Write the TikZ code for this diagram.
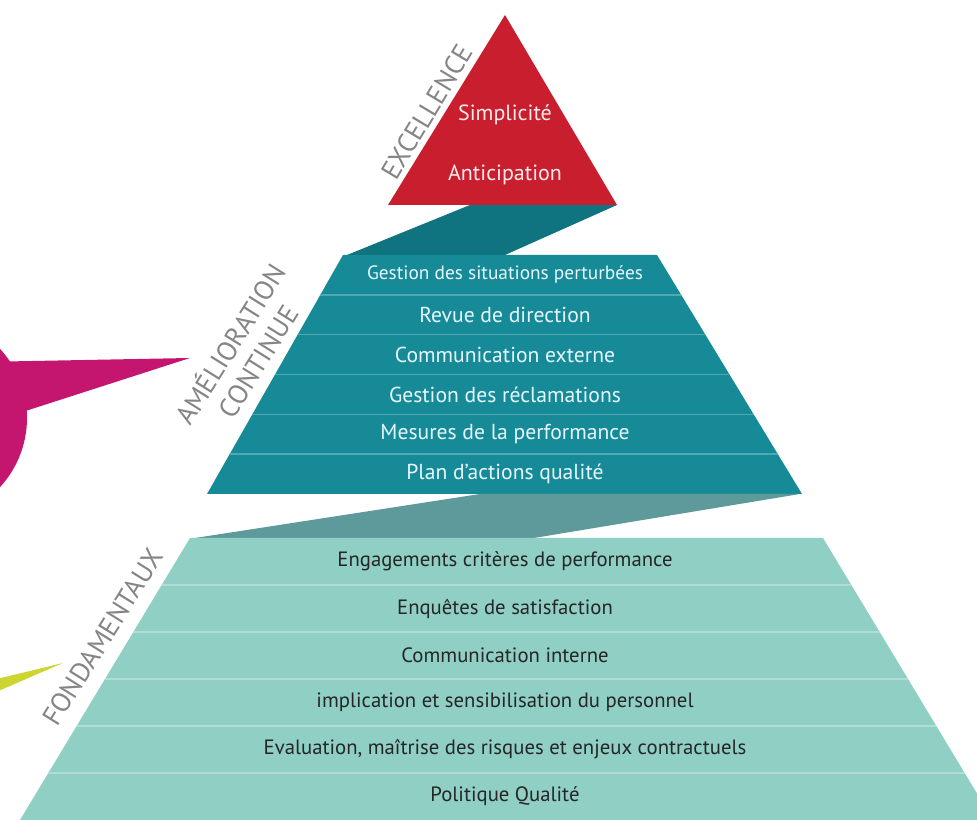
\documentclass[tikz,border=0pt]{standalone}
\usepackage{fontspec}
\setmainfont{PT Sans}
\usetikzlibrary{positioning}

\definecolor{excred}{HTML}{C81E2D}
\definecolor{midteal}{HTML}{178A98}
\definecolor{bandA}{HTML}{0F7380}
\definecolor{bandB}{HTML}{5E9A9C}
\definecolor{baseteal}{HTML}{8FCFC4}
\definecolor{bulle}{HTML}{C4166E}
\definecolor{lime}{HTML}{CDD630}
\definecolor{levelgray}{HTML}{858585}

\begin{document}
\begin{tikzpicture}[x=0.02cm,y=0.02cm]
  \tikzstyle{toptext}=[text=red!8,font=\fontsize{12.5}{14}\selectfont]
  \tikzstyle{midrow}=[text=cyan!10,font=\fontsize{12.3}{14}\selectfont]
  \tikzstyle{baserow}=[text=black!85,font=\fontsize{11.8}{13}\selectfont]
  \tikzstyle{level}=[text=levelgray,font=\fontsize{15.5}{18.5}\selectfont]
  \tikzstyle{sep}=[line width=0.8pt]

  \useasboundingbox (0,0) rectangle (977,820);
  \clip (0,0) rectangle (977,820);

  % bulles a gauche
  \fill[bulle] (-75,402) circle (102);
  \fill[bulle] (-20,458) -- (190,462) -- (10,404) -- cycle;
  \fill[lime] (-20,137) -- (63,157) -- (-20,121) -- cycle;

  % pyramide
  \fill[bandA] (470,615) -- (617,615) -- (505,565) -- (347,565) -- cycle;
  \fill[excred] (505,805) -- (617,615) -- (388,615) -- cycle;
  \fill[midteal] (343,565) -- (657,565) -- (802,326) -- (207,326) -- cycle;
  \fill[bandB] (480,326) -- (800,326) -- (534,282) -- (195,282) -- cycle;
  \fill[baseteal] (190,282) -- (823,282) -- (993,0) -- (20,0) -- cycle;

  \begin{scope}
    \clip (343,565) -- (657,565) -- (802,326) -- (207,326) -- cycle;
    \foreach \k in {1,...,5}
      \draw[sep,midteal!75!white] (0,565-39.83*\k) -- (977,565-39.83*\k);
  \end{scope}
  \begin{scope}
    \clip (190,282) -- (823,282) -- (993,0) -- (20,0) -- cycle;
    \foreach \k in {1,...,5}
      \draw[sep,baseteal!70!white] (0,282-47*\k) -- (977,282-47*\k);
  \end{scope}

  \node[toptext] (simpl) at (505,705) {Simplicité};
  \node[toptext] (antic) at (505,645) {Anticipation};

  \node[midrow,font=\fontsize{11}{13}\selectfont] (m1) at (505,545.1) {Gestion des situations perturbées};
  \foreach \t [count=\i from 2] in {Revue de direction,
      Communication externe, Gestion des réclamations,
      Mesures de la performance, Plan d’actions qualité}
    \node[midrow] (m\i) at (505,584.9-39.83*\i) {\t};

  \foreach \t [count=\i] in {Engagements critères de performance,
      Enquêtes de satisfaction, Communication interne,
      implication et sensibilisation du personnel,
      {Evaluation, maîtrise des risques et enjeux contractuels},
      Politique Qualité}
    \node[baserow] (b\i) at (505,305.5-47*\i) {\t};

  % niveaux
  \node[level,rotate=59] (excel) at (427,708) {EXCELLENCE};
  \node[level,rotate=58,align=center] (amelio) at (243,468) {AMÉLIORATION\\CONTINUE};
  \node[level,rotate=58] (fonda) at (103,183) {FONDAMENTAUX};
\end{tikzpicture}
\end{document}
